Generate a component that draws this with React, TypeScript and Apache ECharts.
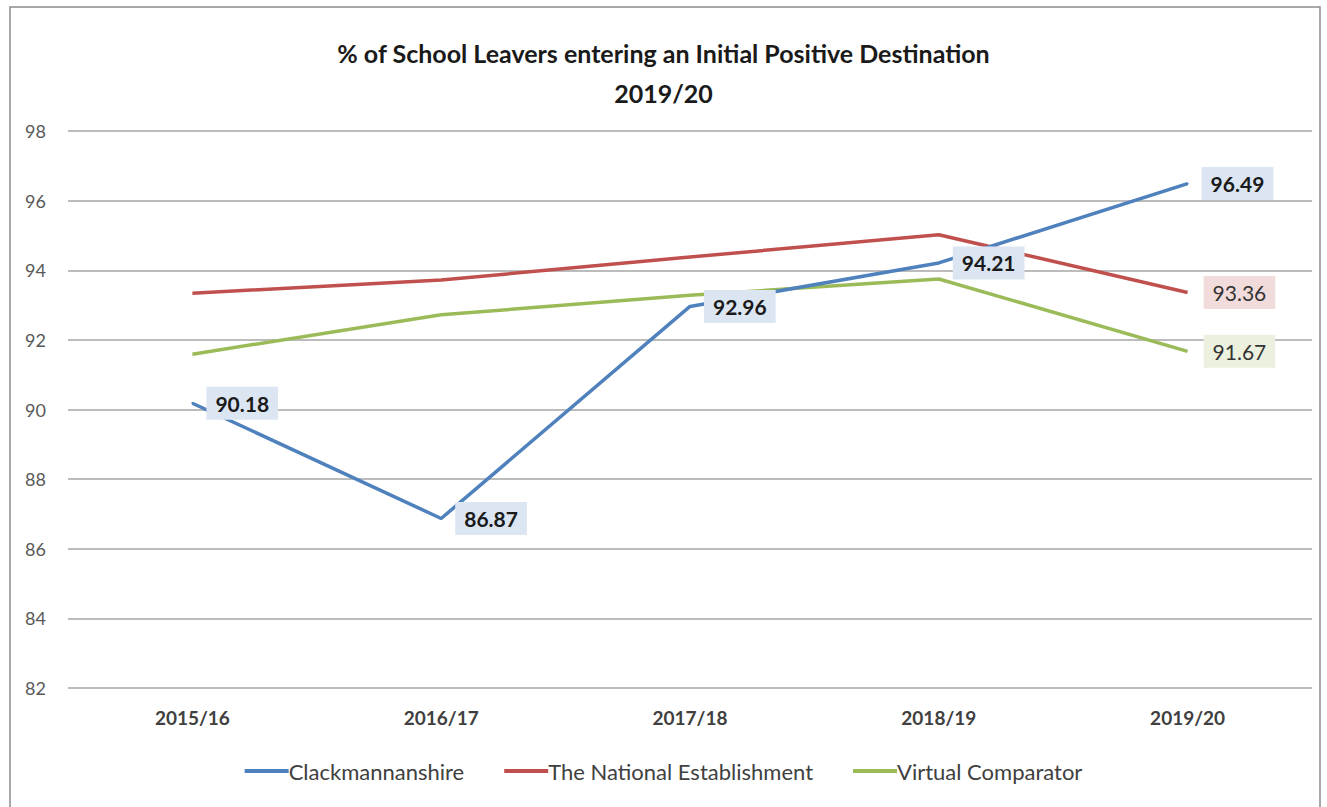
import React, { useEffect, useRef } from "react";
import * as echarts from "echarts";

const categories = ["2015/16", "2016/17", "2017/18", "2018/19", "2019/20"];
const clackmannanshire = [90.18, 86.87, 92.96, 94.21, 96.49];
const nationalEstablishment = [93.34, 93.72, 94.38, 95.02, 93.36];
const virtualComparator = [91.59, 92.72, 93.28, 93.75, 91.67];
const titleLines = ["% of School Leavers entering an Initial Positive Destination", "2019/20"];
const FONT = "Lato, 'Open Sans', sans-serif";

export default function App() {
  const ref = useRef<HTMLDivElement>(null);
  useEffect(() => {
    document.body.style.margin = "0";
    const chart = echarts.init(ref.current!, null, { renderer: "svg" });
    const labelStyle = (bg: string, color: string, bold: boolean, distance: number) => ({
      show: true,
      position: "right",
      distance,
      formatter: (p: any) => Number(Array.isArray(p.value) ? p.value[1] : p.value).toFixed(2),
      backgroundColor: bg,
      padding: [6, 9, 5, 9],
      color,
      fontSize: 21,
      lineHeight: 22,
      fontWeight: bold ? "bold" : "normal",
      fontFamily: FONT,
    });
    chart.setOption({
      animation: false,
      backgroundColor: "#ffffff",
      title: {
        text: titleLines.join("\n"),
        left: "center",
        top: 28,
        textStyle: { fontFamily: FONT, fontSize: 25, fontWeight: "bold", color: "#1a1a1a", lineHeight: 40 },
      },
      graphic: [
        {
          type: "rect",
          shape: { x: 10, y: 7, width: 1310, height: 805 },
          style: { fill: "none", stroke: "#8c8c8c", lineWidth: 1.5 },
          silent: true,
        },
      ],
      legend: {
        bottom: 20,
        left: "center",
        itemWidth: 44,
        itemHeight: 4,
        itemGap: 40,
        icon: "rect",
        textStyle: { fontFamily: FONT, fontSize: 22, color: "#404040", padding: [0, 0, 0, -5] },
        data: ["Clackmannanshire", "The National Establishment", "Virtual Comparator"],
      },
      grid: { left: 68, right: 15, top: 131, bottom: 119 },
      xAxis: {
        type: "category",
        data: categories,
        boundaryGap: true,
        axisLine: { show: false },
        axisTick: { show: false },
        axisLabel: { margin: 20, fontFamily: FONT, fontSize: 19, fontWeight: "bold", color: "#404040" },
      },
      yAxis: {
        type: "value",
        min: 82,
        max: 98,
        interval: 2,
        axisLine: { show: false },
        axisTick: { show: false },
        splitLine: { lineStyle: { color: "#a6a6a6", width: 1.5 } },
        axisLabel: { margin: 22, fontFamily: FONT, fontSize: 18, color: "#595959" },
      },
      series: [
        {
          name: "The National Establishment",
          type: "line",
          data: nationalEstablishment,
          symbol: "none",
          lineStyle: { color: "#c0504d", width: 3.5 },
          itemStyle: { color: "#c0504d" },
          endLabel: labelStyle("#f2dcdb", "#333333", false, 16),
          z: 2,
        },
        {
          name: "Virtual Comparator",
          type: "line",
          data: virtualComparator,
          symbol: "none",
          lineStyle: { color: "#9bbb59", width: 3.5 },
          itemStyle: { color: "#9bbb59" },
          endLabel: labelStyle("#ebf1de", "#333333", false, 16),
          z: 2,
        },
        {
          name: "Clackmannanshire",
          type: "line",
          data: clackmannanshire,
          symbol: "circle",
          symbolSize: 2,
          showSymbol: true,
          lineStyle: { color: "#4f81bd", width: 3.5 },
          itemStyle: { color: "#4f81bd" },
          label: labelStyle("#dce6f2", "#1a1a1a", true, 13),
          z: 3,
        },
      ],
    });
    return () => chart.dispose();
  }, []);
  return <div ref={ref} style={{ width: 1327, height: 807 }} />;
}
